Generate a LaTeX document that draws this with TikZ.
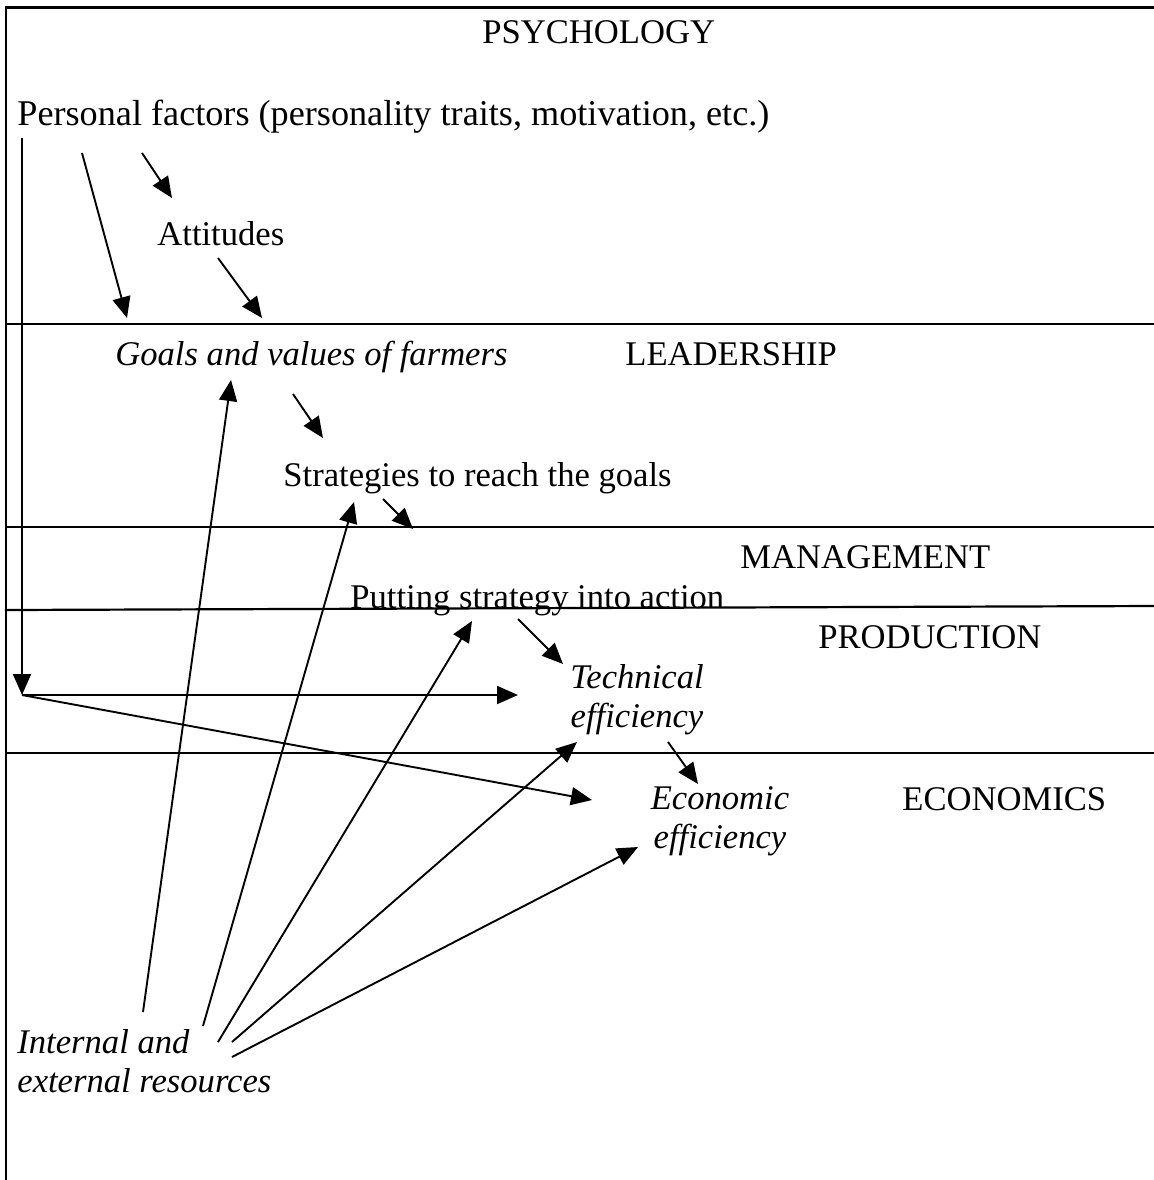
\documentclass[tikz,border=0pt]{standalone}
\usepackage{fontspec}
\setmainfont{Liberation Serif}
\usetikzlibrary{arrows.meta}
\begin{document}
\begin{tikzpicture}[x=0.5pt,y=-0.5pt,
  lbl/.style={inner sep=0pt, anchor=base west, font=\fontsize{17.3}{19.5}\selectfont},
  lblc/.style={inner sep=0pt, anchor=base, font=\fontsize{17.3}{19.5}\selectfont},
  frameline/.style={line width=1.1pt, line cap=rect},
  arr/.style={line width=0.95pt, -{Triangle[length=10.5pt,width=9pt]}}
]
\useasboundingbox (0,0) rectangle (1154,1180);

% frame and band lines
\coordinate (tl) at (6,7.5);
\coordinate (tr) at (1154,7.5);
\coordinate (bl) at (6,1180);
\draw[frameline] (bl) -- (tl) -- (tr);
\coordinate (l1a) at (6,324);  \coordinate (l1b) at (1154,324);
\coordinate (l2a) at (6,527);  \coordinate (l2b) at (1154,527);
\coordinate (l3a) at (6,610);  \coordinate (l3b) at (1154,606);
\coordinate (l4a) at (6,753);  \coordinate (l4b) at (1154,753);
\draw[frameline] (l1a) -- (l1b);
\draw[frameline] (l2a) -- (l2b);
\draw[frameline] (l3a) -- (l3b);
\draw[frameline] (l4a) -- (l4b);

% texts
\node[lbl] (psy) at (482,43) {PSYCHOLOGY};
\node[lbl, font=\fontsize{18.1}{20}\selectfont] (pf) at (17,125) {Personal factors (personality traits, motivation, etc.)};
\node[lbl] (att) at (157,245) {Attitudes};
\node[lbl] (goals) at (115,365) {\textit{Goals and values of farmers}};
\node[lbl] (lead) at (625,365) {LEADERSHIP};
\node[lbl] (strat) at (283,486) {Strategies to reach the goals};
\node[lbl] (mgmt) at (740,568) {MANAGEMENT};
\node[lbl] (put) at (350,608) {Putting strategy into action};
\node[lbl] (prod) at (818,648) {PRODUCTION};
\node[lblc] (tech) at (637,688) {\begin{tabular}[t]{@{}c@{}}\textit{Technical}\\\textit{efficiency}\end{tabular}};
\node[lblc] (econ) at (720,809) {\begin{tabular}[t]{@{}c@{}}\textit{Economic}\\\textit{efficiency}\end{tabular}};
\node[lbl] (ecs) at (902,810) {ECONOMICS};
\node[lbl] (res) at (17,1053) {\begin{tabular}[t]{@{}l@{}}\textit{Internal and}\\\textit{external resources}\end{tabular}};

% connector end points
\coordinate (pf1) at (82,153);   \coordinate (goals1) at (127,318);
\coordinate (pf2) at (142,153);  \coordinate (att1) at (172,198);
\coordinate (att2) at (218,258); \coordinate (goals2) at (262,318);
\coordinate (goals3) at (293,394); \coordinate (strat1) at (323,438);
\coordinate (strat2) at (383,499); \coordinate (put1) at (413,529);
\coordinate (put2) at (518,619); \coordinate (tech1) at (563,664);
\coordinate (tech2) at (668,742); \coordinate (econ1) at (698,784);
\coordinate (pf3) at (22,138);   \coordinate (corner) at (22,695);
\coordinate (tech3) at (518,695); \coordinate (econ2) at (592,800);
\coordinate (res1) at (143,1012); \coordinate (goals4) at (231,380);
\coordinate (res2) at (203,1026); \coordinate (strat3) at (354,502);
\coordinate (res3) at (218,1042); \coordinate (put3) at (472,621);
\coordinate (res4) at (232,1042); \coordinate (tech4) at (577,742);
\coordinate (res5) at (232,1057); \coordinate (econ3) at (638,847);

% connectors
\draw[arr] (pf1) -- (goals1);
\draw[arr] (pf2) -- (att1);
\draw[arr] (att2) -- (goals2);
\draw[arr] (goals3) -- (strat1);
\draw[arr] (strat2) -- (put1);
\draw[arr] (put2) -- (tech1);
\draw[arr] (tech2) -- (econ1);
\draw[arr] (pf3) -- (corner);
\draw[arr] (corner) -- (tech3);
\draw[arr] (corner) -- (econ2);
\draw[arr] (res1) -- (goals4);
\draw[arr] (res2) -- (strat3);
\draw[arr] (res3) -- (put3);
\draw[arr] (res4) -- (tech4);
\draw[arr] (res5) -- (econ3);
\end{tikzpicture}
\end{document}
